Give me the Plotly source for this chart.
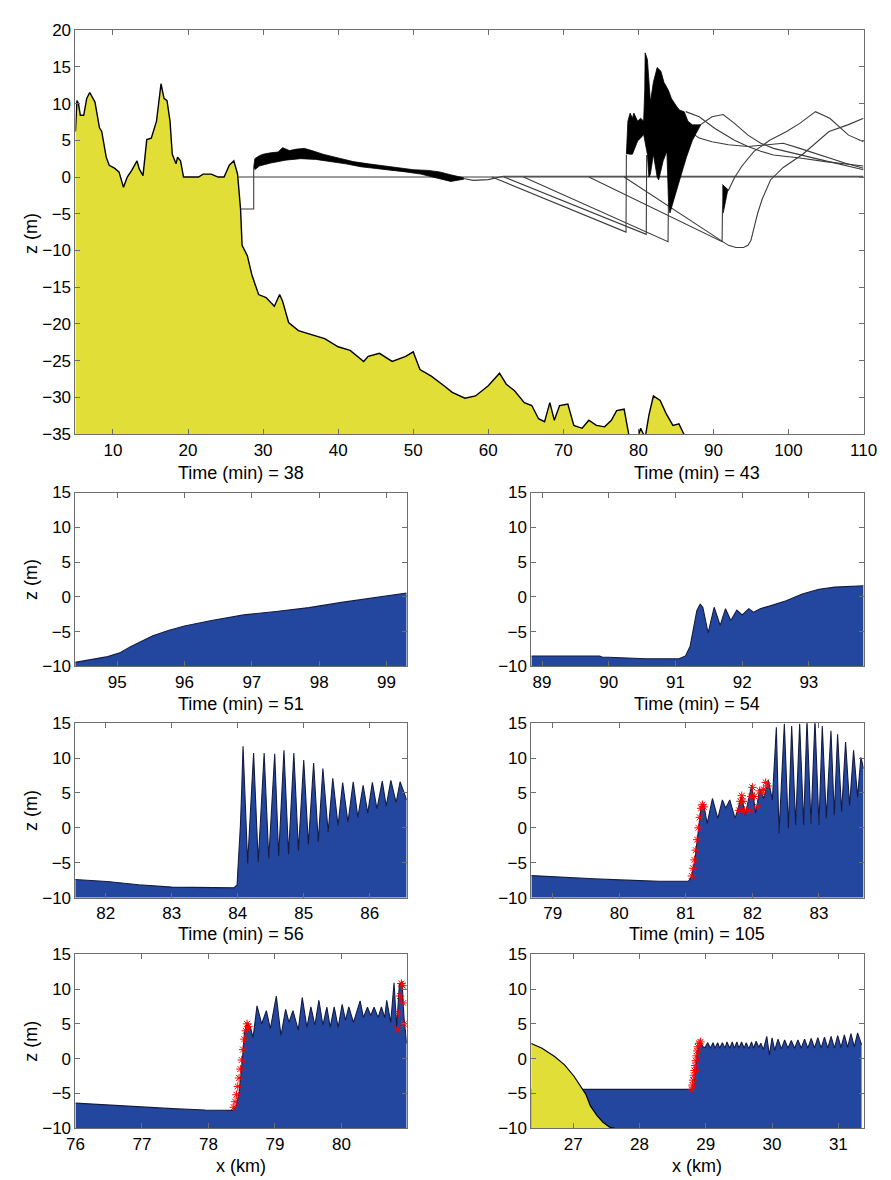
import plotly.graph_objects as go

# ---------------- DATA ----------------
# Top panel: bathymetry (yellow) and surface profiles
bathy_x = [5.0, 5.2, 5.4, 5.65, 6.1, 6.5, 6.9, 7.6, 8.2, 8.5, 9.1, 9.5, 10.2, 10.8, 11.4,
           11.9, 12.5, 13.2, 13.5, 14.0, 14.5, 15.1, 15.8, 16.4, 16.8, 17.2, 17.6, 17.9, 18.4, 18.6,
           19.0, 19.4, 21.4, 22.0, 23.1, 24.0, 24.8, 25.5, 26.1, 26.6, 27.0, 27.2, 27.9, 28.5, 29.4,
           30.4, 31.5, 32.2, 32.6, 33.4, 34.7, 36.0, 38.2, 40.0, 41.6, 43.4, 44.0, 45.5, 47.2, 49.0,
           50.0, 50.9, 52.4, 54.1, 55.2, 56.9, 58.3, 60.0, 61.5, 62.4, 63.5, 64.8, 65.8, 66.7, 67.5,
           68.2, 68.8, 69.5, 70.6, 71.4, 72.5, 73.4, 74.4, 75.5, 76.4, 77.1, 78.1, 78.8, 79.9, 80.3,
           80.9, 81.4, 82.0, 82.9, 83.7, 84.6, 85.4, 86.3]
bathy_z = [6.2, 10.4, 10.0, 8.4, 8.4, 10.7, 11.5, 10.2, 6.7, 6.2, 2.7, 1.6, 1.2, 0.7, -1.4,
           0.0, 0.9, 2.2, 1.1, 0.2, 5.1, 5.3, 7.6, 12.7, 10.7, 10.4, 7.6, 3.1, 1.8, 2.7,
           2.2, 0.0, 0.0, 0.4, 0.4, 0.0, 0.0, 1.6, 2.2, 0.4, -4.4, -9.3, -10.7, -13.3, -16.0,
           -16.4, -17.6, -16.0, -16.9, -19.8, -20.9, -21.3, -22.0, -23.1, -23.6, -25.1, -24.4, -24.0, -25.1, -24.4,
           -23.8, -26.2, -27.1, -28.4, -29.3, -30.1, -29.8, -28.4, -26.7, -28.2, -29.1, -30.7, -31.1, -32.9, -33.3,
           -30.7, -33.1, -31.1, -30.9, -33.8, -34.2, -33.1, -33.8, -34.0, -33.1, -31.8, -31.6, -35.5, -35.5, -34.2,
           -35.5, -32.4, -29.8, -30.4, -32.2, -33.8, -33.6, -35.5]

still_x = [26.6, 110.0]
still_z = [0.0, 0.0]

t105_x = [27.0, 28.75, 28.75]
t105_z = [-4.35, -4.35, 1.3]
t105_band_x = [28.75, 28.9, 29.5, 30.0, 31.0, 32.0, 32.6, 33.5, 34.5, 35.5, 36.5, 38.0, 40.0, 42.0,
               44.0, 46.0, 48.0, 50.0, 52.0, 53.5, 55.0, 56.7,
               56.7, 55.0, 53.0, 51.0, 49.0, 47.0, 45.0, 43.0, 41.0, 39.0, 37.0, 35.0, 33.0, 31.0, 29.5, 28.9]
t105_band_z = [1.3, 2.5, 2.9, 3.1, 3.3, 3.4, 4.0, 3.6, 3.8, 3.9, 3.6, 3.1, 2.6, 2.1,
               1.8, 1.5, 1.2, 1.0, 0.9, 0.7, 0.3, -0.1,
               -0.3, -0.6, -0.1, 0.4, 0.7, 0.9, 1.1, 1.4, 1.8, 2.1, 2.4, 2.5, 2.3, 1.9, 1.5, 1.0]
t105_tail_x = [56.7, 58.0, 60.0, 62.0, 66.0, 110.0]
t105_tail_z = [-0.2, -0.45, -0.35, 0.1, 0.1, 0.1]

t56_x = [60.5, 78.35, 78.4]
t56_z = [0.0, -7.5, 3.0]
t54_x = [62.1, 81.05, 81.1]
t54_z = [0.0, -7.8, 3.0]
t51_x = [64.7, 83.95, 84.0]
t51_z = [0.0, -8.8, -3.5]

blob_x = [78.4, 78.6, 78.9, 79.2, 79.4, 79.9, 80.3, 80.7, 80.85, 80.9, 81.2, 81.4, 81.6, 82.0, 82.5,
          83.0, 83.4, 84.0, 84.4, 85.1, 85.5, 86.1, 86.6, 87.2, 88.3,
          87.2, 86.4, 85.5, 84.6, 84.2, 84.0, 83.8, 83.3, 82.7, 82.5, 82.0, 81.6, 81.4, 81.2, 80.7,
          80.3, 79.9, 79.2, 78.8]
blob_z = [3.1, 7.6, 8.7, 8.0, 8.7, 7.6, 8.0, 7.6, 12.0, 16.9, 16.0, 12.5, 10.2, 12.9, 14.9,
          14.4, 12.9, 11.8, 10.7, 9.6, 9.1, 8.9, 7.6, 7.1, 7.1,
          5.0, 2.7, -0.4, -3.6, -4.9, -3.1, 3.5, 2.2, -0.4, 0.0, 3.1, 0.4, 0.0, 3.1, 5.8,
          5.3, 4.9, 3.1, 3.1]

after_a_x = [86.3, 88.1, 90.2, 92.8, 94.6, 96.3, 98.0, 101.5, 104.9, 110.0]
after_a_z = [8.9, 8.2, 6.6, 5.0, 4.15, 3.5, 3.0, 2.6, 2.1, 1.5]
after_b_x = [88.1, 89.8, 91.3, 92.8, 94.6, 96.3, 98.0, 100.6, 104.1, 110.0]
after_b_z = [7.0, 8.2, 8.5, 7.3, 5.7, 4.6, 3.9, 3.3, 2.4, 1.0]
after_c_x = [86.3, 88.1, 89.8, 92.0, 94.6, 97.2, 99.3, 101.5, 104.1, 107.5, 110.0]
after_c_z = [6.6, 5.3, 4.8, 4.4, 4.15, 4.4, 4.6, 3.9, 3.0, 1.9, 1.2]

t43_x = [73.4, 91.15, 91.2, 91.3, 92.0, 92.8, 93.8, 95.4, 97.5, 99.75, 101.5, 103.6, 105.5, 108.0, 110.0]
t43_z = [0.0, -8.8, -4.5, -1.2, -1.8, -0.1, 1.5, 3.5, 5.0, 6.2, 7.3, 8.9, 8.0, 5.7, 4.8]
t43_blob_x = [91.2, 91.9, 91.3]
t43_blob_z = [-1.0, -1.8, -4.9]

t38_x = [78.1, 91.1, 92.0, 93.0, 94.0, 94.6, 95.0, 95.5, 95.9, 96.5, 97.6, 99.3, 101.9, 105.4, 107.9, 110.0]
t38_z = [0.0, -8.6, -9.3, -9.6, -9.6, -9.3, -8.6, -6.5, -4.9, -3.0, -0.4, 1.3, 3.1, 6.2, 7.1, 8.0]

# Panel t = 38 min
p1_x = [94.37, 94.66, 94.86, 95.05, 95.19, 95.34, 95.53, 95.77, 96.0, 96.4, 96.88, 97.36, 97.85, 98.33, 98.82, 99.3]
p1_z = [-9.43, -8.96, -8.6, -8.0, -7.2, -6.5, -5.6, -4.8, -4.2, -3.4, -2.6, -2.1, -1.55, -0.8, -0.1, 0.55]

# Panel t = 43 min
p2_x = [88.84, 89.86, 89.9, 90.54, 90.56, 91.05, 91.15, 91.22, 91.27, 91.32, 91.37, 91.41, 91.49, 91.58,
        91.67, 91.75, 91.83, 91.92, 92.0, 92.1, 92.17, 92.27, 92.42, 92.66, 92.9, 93.15, 93.39, 93.82]
p2_z = [-8.5, -8.5, -8.65, -8.8, -8.9, -8.9, -8.5, -7.1, -4.8, -2.0, -1.05, -1.5, -5.2, -1.5,
        -4.1, -1.7, -3.4, -1.9, -2.6, -1.7, -2.2, -1.7, -1.3, -0.55, 0.4, 1.1, 1.4, 1.6]

# Panel t = 51 min
p3_x = [81.53, 82.02, 82.5, 83.0, 83.94, 83.99, 84.0, 84.04, 84.06, 84.08,
        84.15, 84.24, 84.31, 84.40, 84.47, 84.56, 84.62, 84.70, 84.77, 84.85,
        84.92, 85.0, 85.07, 85.15, 85.22, 85.29, 85.37, 85.44, 85.52, 85.59,
        85.67, 85.75, 85.82, 85.90, 85.97, 86.04, 86.11, 86.19, 86.25, 86.32,
        86.40, 86.46, 86.56]
p3_z = [-7.4, -7.7, -8.15, -8.5, -8.6, -8.2, -6.3, 0.3, 5.5, 11.7,
        -5.1, 10.7, -4.9, 10.7, -4.4, 10.6, -4.05, 11.1, -3.8, 10.7,
        -3.25, 9.7, -2.4, 9.3, -2.0, 8.5, -0.6, 7.1, 0.3, 6.5,
        0.8, 6.6, 1.5, 6.1, 2.1, 6.5, 2.7, 6.7, 3.1, 6.8,
        3.6, 6.6, 4.0]

# Panel t = 54 min
p4_x = [78.68, 79.14, 79.62, 80.11, 80.6, 81.04, 81.09, 81.14, 81.19, 81.23,
        81.27, 81.32, 81.40, 81.48, 81.55, 81.60, 81.66, 81.74, 81.84, 81.89,
        81.99, 82.05, 82.11, 82.17, 82.24, 82.30, 82.36, 82.40, 82.48, 82.54,
        82.59, 82.65, 82.71, 82.77, 82.82, 82.88, 82.94, 83.0, 83.05, 83.11,
        83.18, 83.23, 83.28, 83.34, 83.40, 83.46, 83.52, 83.58, 83.63, 83.67]
p4_z = [-6.85, -7.1, -7.3, -7.5, -7.65, -7.65, -6.9, -4.3, 0.0, 3.0,
        3.35, 0.6, 4.2, 1.35, 4.0, 2.8, 4.0, 1.35, 4.6, 1.8,
        6.1, 2.1, 5.6, 4.2, 6.8, 4.0, 14.4, -0.8, 14.9, -0.1,
        14.6, 0.4, 14.9, 0.4, 15.5, 0.6, 15.5, 0.4, 14.6, 1.35,
        13.9, 1.8, 13.4, 2.3, 12.3, 3.15, 11.1, 4.4, 10.1, 8.5]
p4_break_x = [81.09, 81.11, 81.13, 81.15, 81.17, 81.19, 81.21, 81.23, 81.25, 81.27,
              81.80, 81.82, 81.84, 81.86, 81.88,
              81.96, 81.98, 82.0, 82.03, 82.08, 82.11, 82.14, 82.17, 82.20, 82.23]
p4_break_z = [-6.9, -5.8, -4.6, -3.2, -1.7, 0.0, 1.5, 2.8, 3.3, 3.0,
              2.5, 3.8, 4.6, 3.8, 2.5,
              2.5, 4.5, 5.8, 4.5, 3.0, 5.3, 5.0, 5.5, 6.5, 6.0]

# Panel t = 56 min
p5_x = [76.0, 76.49, 76.97, 77.46, 77.95, 78.36, 78.41, 78.46, 78.51, 78.54,
        78.58, 78.63, 78.67, 78.73, 78.80, 78.87, 78.93, 79.02, 79.09, 79.16,
        79.21, 79.27, 79.35, 79.41, 79.48, 79.54, 79.60, 79.66, 79.72, 79.78,
        79.83, 79.89, 79.95, 80.01, 80.06, 80.11, 80.18, 80.28, 80.33, 80.39,
        80.44, 80.49, 80.55, 80.60, 80.65, 80.68, 80.74, 80.79, 80.83, 80.87,
        80.91, 80.94, 80.98]
p5_z = [-6.4, -6.7, -7.0, -7.2, -7.4, -7.45, -7.0, -4.9, -0.2, 3.6,
        5.2, 4.5, 3.0, 7.6, 5.0, 6.9, 4.3, 9.0, 3.3, 7.1,
        5.2, 6.9, 4.1, 8.8, 4.5, 7.45, 4.8, 8.4, 4.8, 7.4,
        4.5, 7.45, 4.5, 7.8, 5.5, 7.45, 5.2, 8.3, 5.9, 7.4,
        6.2, 7.4, 5.9, 7.45, 5.9, 8.4, 5.2, 10.9, 4.5, 10.7,
        11.1, 5.9, 2.2]
p5_break_x = [78.38, 78.40, 78.42, 78.44, 78.46, 78.48, 78.50, 78.52, 78.54, 78.56, 78.58, 78.60,
              80.84, 80.86, 80.88, 80.90, 80.92, 80.93, 80.94]
p5_break_z = [-7.0, -6.2, -5.2, -4.0, -2.8, -1.5, -0.2, 1.3, 2.8, 4.0, 5.0, 4.6,
              4.2, 6.5, 9.0, 10.8, 10.5, 8.0, 5.0]

# Panel t = 105 min
p6_land_x = [26.36, 26.53, 26.72, 26.87, 27.01, 27.11, 27.19, 27.26, 27.36, 27.45, 27.55, 27.65]
p6_land_z = [2.2, 1.5, 0.3, -0.9, -2.5, -4.0, -5.1, -6.8, -8.2, -9.15, -9.86, -10.1]
p6_x = [26.36, 28.77, 28.82, 28.86, 28.89, 28.92, 28.96,
        28.99, 29.03, 29.07, 29.11, 29.14, 29.18, 29.21, 29.25, 29.29, 29.32, 29.36, 29.40, 29.43,
        29.47, 29.50, 29.54, 29.58, 29.61, 29.65, 29.69, 29.72, 29.76, 29.80, 29.83, 29.87, 29.92,
        29.96, 30.0, 30.04, 30.09, 30.14, 30.19, 30.24, 30.29, 30.34, 30.39, 30.44, 30.49, 30.54,
        30.59, 30.64, 30.69, 30.74, 30.79, 30.84, 30.89, 30.94, 30.99, 31.04, 31.09, 31.14, 31.19,
        31.24, 31.29, 31.35]
p6_z = [-4.43, -4.43, -3.96, -1.1, 1.7, 2.4, 1.7,
        1.6, 2.3, 1.5, 2.3, 1.5, 2.3, 1.5, 2.3, 1.5, 2.4, 1.5, 2.4, 1.5,
        2.4, 1.5, 2.4, 1.5, 2.3, 1.4, 2.4, 1.5, 2.5, 1.6, 2.2, 1.3, 3.2,
        0.5, 3.0, 1.2, 2.8, 1.4, 2.7, 1.5, 2.6, 1.5, 2.7, 1.5, 2.8, 1.5,
        2.9, 1.5, 3.0, 1.5, 3.1, 1.5, 3.2, 1.5, 3.3, 1.6, 3.4, 1.6, 3.6,
        1.7, 3.7, 2.0]
p6_break_x = [28.79, 28.80, 28.81, 28.82, 28.83, 28.84, 28.85, 28.86, 28.87, 28.88, 28.90, 28.92]
p6_break_z = [-4.4, -3.8, -3.1, -2.4, -1.7, -1.0, -0.3, 0.4, 1.1, 1.7, 2.2, 2.4]

panel_titles = ["Time (min) = 38", "Time (min) = 43", "Time (min) = 51",
                "Time (min) = 54", "Time (min) = 56", "Time (min) = 105"]
top_xticks = [10, 20, 30, 40, 50, 60, 70, 80, 90, 100, 110]
top_yticks = [-35, -30, -25, -20, -15, -10, -5, 0, 5, 10, 15, 20]
small_yticks = [-10, -5, 0, 5, 10, 15]
p_xticks = [[95, 96, 97, 98, 99], [89, 90, 91, 92, 93], [82, 83, 84, 85, 86],
            [79, 80, 81, 82, 83], [76, 77, 78, 79, 80], [27, 28, 29, 30, 31]]
p_xranges = [[94.38, 99.3], [88.84, 93.82], [81.54, 86.56], [78.68, 83.67], [76.0, 80.98], [26.37, 31.38]]

# ---------------- FIGURE ----------------
W, H = 891, 1180
FONT = "Liberation Sans, Arial, sans-serif"
YEL = "#e2de38"
BLUE = "#23479e"
OUT = "#151c44"
GRAY_LINE = "#3c3c3c"
AXC = "#6e6e6e"

fig = go.Figure()


def add(tr):
    tr.update(showlegend=False, hoverinfo="skip")
    fig.add_trace(tr)


def poly_under(xs, zs, floor):
    return list(xs) + [xs[-1], xs[0]], list(zs) + [floor, floor]


# --- top panel (x, y)
px, pz = poly_under(bathy_x, bathy_z, -36)
add(go.Scatter(x=px, y=pz, fill="toself", fillcolor=YEL, mode="lines", line=dict(width=0), xaxis="x", yaxis="y"))
add(go.Scatter(x=bathy_x, y=bathy_z, mode="lines", line=dict(color="black", width=1.4), xaxis="x", yaxis="y"))
add(go.Scatter(x=still_x, y=still_z, mode="lines", line=dict(color=GRAY_LINE, width=1.1), xaxis="x", yaxis="y"))
for xs, zs in [(t105_x, t105_z), (t105_tail_x, t105_tail_z), (t56_x, t56_z), (t54_x, t54_z),
               (t51_x, t51_z), (after_a_x, after_a_z), (after_b_x, after_b_z), (after_c_x, after_c_z),
               (t43_x, t43_z), (t38_x, t38_z)]:
    add(go.Scatter(x=xs, y=zs, mode="lines", line=dict(color=GRAY_LINE, width=1.1), xaxis="x", yaxis="y"))
for xs, zs in [(t105_band_x, t105_band_z), (blob_x, blob_z), (t43_blob_x, t43_blob_z)]:
    add(go.Scatter(x=xs, y=zs, fill="toself", fillcolor="black", mode="lines",
                   line=dict(color="black", width=0.8), xaxis="x", yaxis="y"))

# --- small panels
panels = [(p1_x, p1_z, None, None), (p2_x, p2_z, None, None), (p3_x, p3_z, None, None),
          (p4_x, p4_z, p4_break_x, p4_break_z), (p5_x, p5_z, p5_break_x, p5_break_z),
          (p6_x, p6_z, p6_break_x, p6_break_z)]
for i, (xs, zs, bx, bz) in enumerate(panels):
    xa, ya = "x%d" % (i + 2), "y%d" % (i + 2)
    qx, qz = poly_under(xs, zs, -10.5)
    add(go.Scatter(x=qx, y=qz, fill="toself", fillcolor=BLUE, mode="lines", line=dict(width=0), xaxis=xa, yaxis=ya))
    add(go.Scatter(x=xs, y=zs, mode="lines", line=dict(color=OUT, width=1.1), xaxis=xa, yaxis=ya))
    if i == 5:
        lx, lz = poly_under(p6_land_x, p6_land_z, -10.5)
        add(go.Scatter(x=lx, y=lz, fill="toself", fillcolor=YEL, mode="lines", line=dict(width=0), xaxis=xa, yaxis=ya))
        add(go.Scatter(x=p6_land_x, y=p6_land_z, mode="lines", line=dict(color="black", width=1.2), xaxis=xa, yaxis=ya))
    if bx is not None:
        add(go.Scatter(x=bx, y=bz, mode="markers", xaxis=xa, yaxis=ya,
                       marker=dict(symbol="asterisk-open", size=7, color="red", line=dict(color="#ff2a10", width=1))))

# --- axes
def axis_common():
    return dict(showline=True, linecolor=AXC, linewidth=1, mirror="ticks", ticks="inside", ticklen=5,
                tickcolor=AXC, showgrid=False, zeroline=False,
                tickfont=dict(family=FONT, size=17, color="black"))


def dom_x(a, b):
    return [a / W, b / W]


def dom_y(top, bottom):
    return [1 - bottom / H, 1 - top / H]


layout = dict(width=W, height=H, margin=dict(l=0, r=0, t=0, b=0), plot_bgcolor="white",
              paper_bgcolor="white", font=dict(family=FONT, size=17, color="black"))
layout["xaxis"] = dict(axis_common(), domain=dom_x(60, 869), range=[5, 110], tickmode="array",
                       tickvals=top_xticks, anchor="y")
layout["yaxis"] = dict(axis_common(), domain=dom_y(13.3, 424), range=[-35, 20], tickmode="array",
                       tickvals=top_yticks, anchor="x")

cols = [(60, 400), (528, 869)]
rows = [(483.3, 660), (717.7, 895), (952.7, 1129.3)]
for i in range(6):
    c = cols[i % 2]
    r = rows[i // 2]
    n = i + 2
    layout["xaxis%d" % n] = dict(axis_common(), domain=dom_x(*c), range=p_xranges[i], tickmode="array",
                                 tickvals=p_xticks[i], anchor="y%d" % n)
    layout["yaxis%d" % n] = dict(axis_common(), domain=dom_y(*r), range=[-10, 15], tickmode="array",
                                 tickvals=small_yticks, anchor="x%d" % n)

ann = []


def note(text, x, y, angle=0):
    ann.append(dict(text=text, x=x / W, y=1 - y / H, xref="paper", yref="paper", showarrow=False,
                    textangle=angle, font=dict(family=FONT, size=18, color="black"),
                    xanchor="center", yanchor="middle"))


note("z (m)", 15, 220, -90)
for r in rows:
    note("z (m)", 15, (r[0] + r[1]) / 2, -90)
title_y = [463, 698, 932]
for i, t in enumerate(panel_titles):
    c = cols[i % 2]
    note(t, (c[0] + c[1]) / 2, title_y[i // 2])
for c in cols:
    note("x (km)", (c[0] + c[1]) / 2, 1168)
layout["annotations"] = ann

fig.update_layout(**layout)
fig.write_html("out.html")
